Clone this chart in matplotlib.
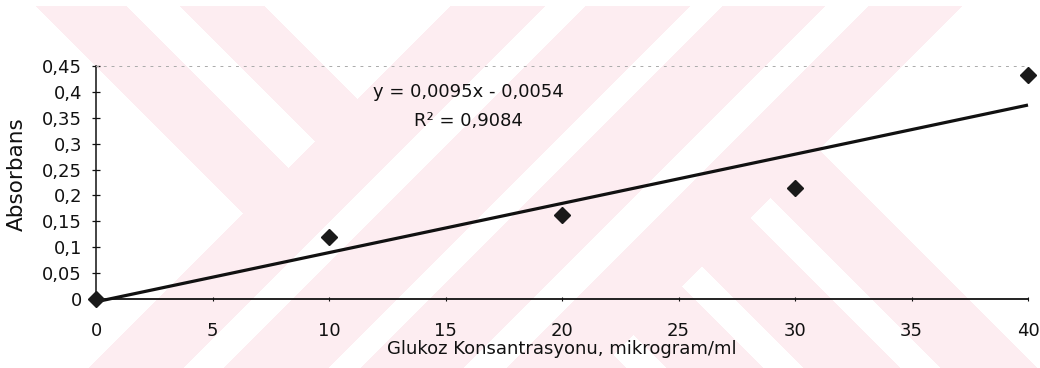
import numpy as np
import matplotlib
matplotlib.use("Agg")
import matplotlib.pyplot as plt
from matplotlib.ticker import FixedLocator, FuncFormatter

# ---- data ----
concentration = [0, 10, 20, 30, 40]            # mikrogram/ml
absorbance = [0.0, 0.120, 0.162, 0.214, 0.432]
slope = 0.0095
intercept = -0.0054
r_squared = 0.9084
x_ticks = [0, 5, 10, 15, 20, 25, 30, 35, 40]
y_ticks = [0, 0.05, 0.1, 0.15, 0.2, 0.25, 0.3, 0.35, 0.4, 0.45]
x_label = "Glukoz Konsantrasyonu, mikrogram/ml"
y_label = "Absorbans"
eq_text = "y = 0,0095x - 0,0054"
r2_text = "R\u00b2 = 0,9084"

plt.rcParams['font.family'] = ['DejaVu Sans']

W, H = 1040, 368
fig = plt.figure(figsize=(W / 100, H / 100), dpi=100)

# ---- background watermark (decorative) ----
yy, xx = np.mgrid[0:H, 0:W]
s = xx + yy
d = xx - yy
mask = np.zeros((H, W), dtype=bool)
for a, b in [(456, 551), (591, 696), (728, 831), (874, 968)]:
    mask |= (s >= a) & (s < b)
for a, b in [(30, 121), (174, 259)]:
    mask |= (d >= a) & (d < b) & (s < 456)
for a, b in [(573, 670), (436, 533), (299, 396), (162, 259)]:
    mask |= (d >= a) & (d < b) & (s >= 968)
mask[:6, :] = False
img = np.ones((H, W, 3))
img[mask] = np.array([253, 237, 241]) / 255.0
ax_bg = fig.add_axes([0, 0, 1, 1], zorder=0)
ax_bg.imshow(img, extent=(0, W, H, 0), aspect='auto', interpolation='bilinear')
ax_bg.set_axis_off()

# ---- main axes ----
left = 96 / W
bottom = (H - 299) / H
width = (1028 - 96) / W
height = (299 - 66) / H
ax = fig.add_axes([left, bottom, width, height], zorder=1)
ax.set_facecolor('none')

ax.set_xlim(0, 40)
ax.set_ylim(0, 0.45)

xfit = np.array([concentration[0], concentration[-1]], dtype=float)
ax.plot(xfit, slope * xfit + intercept, color='#111111', lw=2.3,
        solid_capstyle='butt', clip_on=False, zorder=3)
ax.plot(concentration, absorbance, linestyle='none', marker='D',
        markersize=7.8, color='#1a1a1a', clip_on=False, zorder=4)

ax.spines['right'].set_visible(False)
ax.spines['top'].set_color('#aaaaaa')
ax.spines['top'].set_linewidth(0.7)
ax.spines['top'].set_linestyle((0, (2, 6)))
ax.spines['left'].set_color('#111111')
ax.spines['left'].set_linewidth(1.1)
ax.spines['bottom'].set_color('#111111')
ax.spines['bottom'].set_linewidth(1.3)

fmt = FuncFormatter(lambda v, p: ('%g' % v).replace('.', ','))
ax.xaxis.set_major_locator(FixedLocator(x_ticks))
ax.yaxis.set_major_locator(FixedLocator(y_ticks))
ax.xaxis.set_major_formatter(fmt)
ax.yaxis.set_major_formatter(fmt)
ax.tick_params(axis='y', direction='inout', length=6, width=0.9,
               pad=7, labelsize=13, colors='#111111')
ax.tick_params(axis='x', direction='inout', length=3, width=0.8,
               pad=15, labelsize=13, colors='#111111')

ax.set_xlabel(x_label, fontsize=13, color='#111111', va='center')
ax.xaxis.set_label_coords(0.5, -0.215)
ax.set_ylabel(y_label, fontsize=15.5, color='#111111', va='center')
ax.yaxis.set_label_coords(-0.085, 0.535)

ax.text(0.400, 0.888, eq_text, transform=ax.transAxes, ha='center',
        va='center', fontsize=13, color='#111111')
ax.text(0.400, 0.764, r2_text, transform=ax.transAxes, ha='center',
        va='center', fontsize=13, color='#111111')

fig.savefig('out.png', dpi=100)
